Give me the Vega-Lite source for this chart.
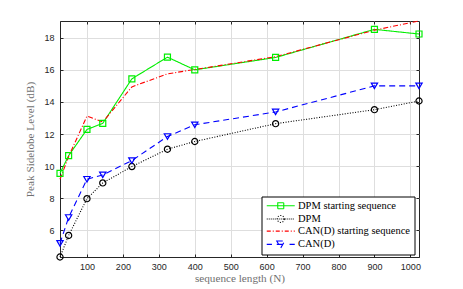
{
  "$schema": "https://vega.github.io/schema/vega-lite/v6.json",
  "width": 359,
  "height": 236,
  "autosize": {"type": "none"},
  "padding": {"left": 60, "top": 21, "right": 44, "bottom": 32},
  "background": "white",
  "config": {
    "view": {"stroke": "#262626", "strokeWidth": 1},
    "axis": {
      "domainColor": "#262626",
      "domainWidth": 1,
      "tickColor": "#262626",
      "tickWidth": 1,
      "tickSize": -3,
      "gridColor": "#dedede",
      "gridWidth": 1,
      "labelFont": "Liberation Sans",
      "labelFontSize": 9,
      "labelColor": "#262626",
      "titleFont": "Liberation Serif",
      "titleFontSize": 11.2,
      "titleFontWeight": "normal",
      "titleColor": "#707070"
    }
  },
  "data": {
    "values": [
      {"series": "DPM starting sequence", "N": 25, "psl": 9.56},
      {"series": "DPM starting sequence", "N": 49, "psl": 10.66},
      {"series": "DPM starting sequence", "N": 100, "psl": 12.29},
      {"series": "DPM starting sequence", "N": 144, "psl": 12.67},
      {"series": "DPM starting sequence", "N": 225, "psl": 15.44},
      {"series": "DPM starting sequence", "N": 324, "psl": 16.79},
      {"series": "DPM starting sequence", "N": 400, "psl": 16.0},
      {"series": "DPM starting sequence", "N": 625, "psl": 16.77},
      {"series": "DPM starting sequence", "N": 900, "psl": 18.52},
      {"series": "DPM starting sequence", "N": 1024, "psl": 18.23},
      {"series": "DPM", "N": 25, "psl": 4.35},
      {"series": "DPM", "N": 49, "psl": 5.69},
      {"series": "DPM", "N": 100, "psl": 7.98},
      {"series": "DPM", "N": 144, "psl": 8.96},
      {"series": "DPM", "N": 225, "psl": 9.98},
      {"series": "DPM", "N": 324, "psl": 11.06},
      {"series": "DPM", "N": 400, "psl": 11.54},
      {"series": "DPM", "N": 625, "psl": 12.65},
      {"series": "DPM", "N": 900, "psl": 13.52},
      {"series": "DPM", "N": 1024, "psl": 14.06},
      {"series": "CAN(D) starting sequence", "N": 25, "psl": 9.19},
      {"series": "CAN(D) starting sequence", "N": 49, "psl": 10.6},
      {"series": "CAN(D) starting sequence", "N": 100, "psl": 13.12},
      {"series": "CAN(D) starting sequence", "N": 144, "psl": 12.75},
      {"series": "CAN(D) starting sequence", "N": 225, "psl": 14.94},
      {"series": "CAN(D) starting sequence", "N": 324, "psl": 15.75},
      {"series": "CAN(D) starting sequence", "N": 400, "psl": 16.02},
      {"series": "CAN(D) starting sequence", "N": 625, "psl": 16.82},
      {"series": "CAN(D) starting sequence", "N": 900, "psl": 18.47},
      {"series": "CAN(D) starting sequence", "N": 1024, "psl": 19.04},
      {"series": "CAN(D)", "N": 25, "psl": 5.2},
      {"series": "CAN(D)", "N": 49, "psl": 6.81},
      {"series": "CAN(D)", "N": 100, "psl": 9.19},
      {"series": "CAN(D)", "N": 144, "psl": 9.46},
      {"series": "CAN(D)", "N": 225, "psl": 10.35},
      {"series": "CAN(D)", "N": 324, "psl": 11.85},
      {"series": "CAN(D)", "N": 400, "psl": 12.58},
      {"series": "CAN(D)", "N": 625, "psl": 13.38},
      {"series": "CAN(D)", "N": 900, "psl": 15.0},
      {"series": "CAN(D)", "N": 1024, "psl": 15.0}
    ]
  },
  "layer": [
    {
      "mark": {"type": "line", "strokeWidth": 1.1, "clip": false},
      "encoding": {
        "x": {
          "field": "N", "type": "quantitative",
          "scale": {"domain": [25, 1024], "nice": false, "zero": false},
          "axis": {
            "orient": "bottom", "grid": true, "format": "d",
            "values": [100, 200, 300, 400, 500, 600, 700, 800, 900, 1000],
            "title": "sequence length (N)",
            "labelPadding": 8, "titlePadding": 1
          }
        },
        "y": {
          "field": "psl", "type": "quantitative",
          "scale": {"domain": [4.35, 19.04], "nice": false, "zero": false},
          "axis": {
            "orient": "left", "grid": true,
            "values": [6, 8, 10, 12, 14, 16, 18],
            "title": "Peak Sidelobe Level (dB)",
            "labelPadding": 9, "titlePadding": 8
          }
        },
        "color": {
          "field": "series", "type": "nominal",
          "scale": {
            "domain": ["DPM starting sequence", "DPM", "CAN(D) starting sequence", "CAN(D)"],
            "range": ["#00ee00", "#000000", "#ff0000", "#0000ff"]
          },
          "legend": {
            "orient": "none", "legendX": 201.5, "legendY": 175.5,
            "title": null, "direction": "vertical",
            "strokeColor": "#000000", "fillColor": "white", "padding": 4,
            "symbolSize": 64, "symbolStrokeWidth": 1.1,
            "symbolOffset": 10, "labelOffset": 12,
            "labelFont": "Liberation Serif", "labelFontSize": 10.5,
            "labelColor": "#000000", "labelLimit": 300, "rowPadding": 1.2,
            "encode": {
              "symbols": {
                "update": {
                  "fill": {"value": "transparent"},
                  "shape": {
                    "signal": "datum.value === 'DPM starting sequence' ? 'M-3.5,0H3.5M-0.75,-0.75H0.75V0.75H-0.75Z' : datum.value === 'DPM' ? 'M-3.5,0H-3.25M-3,0H-2.75M-2.5,0H-2.25M-2,0H-1.75M-1.5,0H-1.25M-1,0H-0.75M-0.5,0H-0.25M0,0H0.25M0.5,0H0.75M1,0H1.25M1.5,0H1.75M2,0H2.25M2.5,0H2.75M3,0H3.25M0.875,0A0.875,0.875,0,1,1,-0.875,0A0.875,0.875,0,1,1,0.875,0Z' : datum.value === 'CAN(D) starting sequence' ? 'M-3.5,0H-2.5M-2,0H-1.75M-1.25,0H-0.25M0.25,0H0.5M1,0H2M2.5,0H2.75M3.25,0H3.5' : 'M-3.5,0H-2.2M-1,0H1M2.2,0H3.5M-1,-0.85H1L0,0.9Z'"
                  }
                }
              }
            }
          }
        },
        "strokeDash": {
          "field": "series", "type": "nominal",
          "scale": {
            "domain": ["DPM starting sequence", "DPM", "CAN(D) starting sequence", "CAN(D)"],
            "range": [[1, 0], [1, 1.6], [5, 2, 1, 2], [6, 4]]
          },
          "legend": null
        }
      }
    },
    {
      "transform": [{"filter": "datum.series !== 'CAN(D) starting sequence'"}],
      "mark": {"type": "point", "filled": false, "strokeWidth": 1.2, "opacity": 1, "clip": false},
      "encoding": {
        "x": {
          "field": "N", "type": "quantitative",
          "axis": {"orient": "top", "labels": false, "grid": false, "title": null, "domain": false,
                   "values": [100, 200, 300, 400, 500, 600, 700, 800, 900, 1000]}
        },
        "y": {
          "field": "psl", "type": "quantitative",
          "axis": {"orient": "right", "labels": false, "grid": false, "title": null, "domain": false,
                   "values": [6, 8, 10, 12, 14, 16, 18]}
        },
        "color": {"field": "series", "type": "nominal"},
        "shape": {
          "field": "series", "type": "nominal",
          "scale": {"domain": ["DPM starting sequence", "DPM", "CAN(D)"], "range": ["square", "circle", "triangle-down"]},
          "legend": null
        },
        "size": {
          "field": "series", "type": "ordinal",
          "scale": {"domain": ["DPM starting sequence", "DPM", "CAN(D)"], "range": [36, 40, 64]},
          "legend": null
        }
      }
    }
  ],
  "resolve": {"axis": {"x": "independent", "y": "independent"}}
}
